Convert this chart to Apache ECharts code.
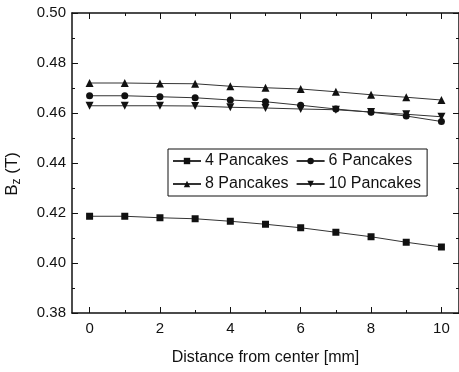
<!DOCTYPE html>
<html><head><meta charset="utf-8">
<script src="https://cdn.jsdelivr.net/npm/echarts@6/dist/echarts.min.js"></script>
<style>html,body{margin:0;padding:0;background:#fff}#c{width:459px;height:372px}</style>
</head><body><div id="c"></div>
<script>
const xValues = [0,1,2,3,4,5,6,7,8,9,10];
const xMajorTicks = [0,2,4,6,8,10];
const xMinorTicks = [1,3,5,7,9];
const b4 = [0.4187,0.4187,0.4181,0.4177,0.4167,0.4155,0.4141,0.4123,0.4105,0.4083,0.4064];
const b6 = [0.4669,0.4669,0.4665,0.4661,0.4652,0.4645,0.4631,0.4616,0.4603,0.4588,0.4566];
const b8 = [0.4720,0.4720,0.4718,0.4717,0.4707,0.4701,0.4696,0.4685,0.4673,0.4663,0.4652];
const b10 = [0.4629,0.4629,0.4629,0.4628,0.4623,0.4620,0.4616,0.4613,0.4604,0.4595,0.4585];
const seriesNames = ['4 Pancakes','6 Pancakes','8 Pancakes','10 Pancakes'];
const xTitle = 'Distance from center [mm]';

const FONT = 'Liberation Sans, Arial, sans-serif';
const INK = '#111';
const chart = echarts.init(document.getElementById('c'), null, {renderer:'canvas'});
const pair = arr => xValues.map((x,i)=>[x,arr[i]]);
const mk = (name, data, symbol, size, rot) => ({
  name, type:'line', data:pair(data), xAxisIndex:0, yAxisIndex:0,
  symbol, symbolSize:size, symbolRotate:rot||0, showSymbol:true,
  lineStyle:{color:'#333', width:1}, itemStyle:{color:INK},
  emphasis:{disabled:true}, animation:false, z:3
});
const axisLineStyle = {color:INK, width:1.5};
chart.setOption({
  animation:false,
  grid:{left:72, right:0, top:13, bottom:59, containLabel:false},
  xAxis:[
    {type:'value', position:'bottom', min:-0.5, max:10.5,
     axisLine:{show:true, onZero:false, lineStyle:axisLineStyle},
     axisTick:{show:true, inside:true, length:6, customValues:xMajorTicks, lineStyle:{color:INK,width:1}},
     axisLabel:{show:true, customValues:xMajorTicks, margin:8, color:INK, fontSize:15, fontFamily:FONT},
     splitLine:{show:false},
     name:xTitle, nameLocation:'middle', nameGap:37,
     nameTextStyle:{color:INK, fontSize:16, fontFamily:FONT}},
    {type:'value', position:'bottom', min:-0.5, max:10.5,
     axisLine:{show:false, onZero:false},
     axisTick:{show:true, inside:true, length:3, customValues:xMinorTicks, lineStyle:{color:INK,width:1}},
     axisLabel:{show:false}, splitLine:{show:false}},
    {type:'value', position:'top', min:-0.5, max:10.5,
     axisLine:{show:true, onZero:false, lineStyle:axisLineStyle},
     axisTick:{show:true, inside:true, length:6, customValues:xMajorTicks, lineStyle:{color:INK,width:1}},
     axisLabel:{show:false}, splitLine:{show:false}},
    {type:'value', position:'top', min:-0.5, max:10.5,
     axisLine:{show:false, onZero:false},
     axisTick:{show:true, inside:true, length:3, customValues:xMinorTicks, lineStyle:{color:INK,width:1}},
     axisLabel:{show:false}, splitLine:{show:false}}
  ],
  yAxis:[
    {type:'value', position:'left', min:0.38, max:0.50, interval:0.02,
     axisLine:{show:true, onZero:false, lineStyle:axisLineStyle},
     axisTick:{show:true, inside:true, length:6, lineStyle:{color:INK,width:1}},
     minorTick:{show:true, splitNumber:2, length:3, lineStyle:{color:INK,width:1}},
     axisLabel:{show:true, margin:6, color:INK, fontSize:15, fontFamily:FONT,
       formatter:v=>v.toFixed(2)},
     splitLine:{show:false}},
    {type:'value', position:'right', min:0.38, max:0.50, interval:0.02,
     axisLine:{show:true, onZero:false, lineStyle:axisLineStyle},
     axisTick:{show:true, inside:true, length:6, lineStyle:{color:INK,width:1}},
     minorTick:{show:true, splitNumber:2, length:3, lineStyle:{color:INK,width:1}},
     axisLabel:{show:false}, splitLine:{show:false}}
  ],
  legend:{
    show:true, left:168, top:149, width:250, orient:'horizontal',
    padding:[4,6,4,4], itemGap:7, itemWidth:28, itemHeight:8,
    borderColor:INK, borderWidth:1, backgroundColor:'#fff',
    textStyle:{color:INK, fontSize:16, fontFamily:FONT, padding:[0,0,0,-1]},
    selectedMode:false, data:seriesNames
  },
  graphic:[{
    type:'text', left:4, top:152, rotation:Math.PI/2,
    style:{
      text:'{b|B}{s|z}{b| (T)}', fill:INK, font:'17px '+FONT,
      rich:{b:{fontSize:17, fontFamily:FONT, fill:INK}, s:{fontSize:12, fontFamily:FONT, fill:INK, verticalAlign:'bottom', padding:[8,0,0,0]}}
    }
  }],
  series:[
    mk(seriesNames[0], b4, 'rect', 7),
    mk(seriesNames[1], b6, 'circle', 7),
    mk(seriesNames[2], b8, 'triangle', 8),
    mk(seriesNames[3], b10, 'triangle', 8, 180)
  ]
});
</script></body></html>
